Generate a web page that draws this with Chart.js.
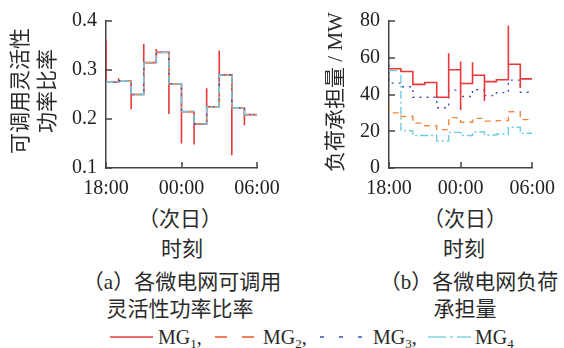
<!DOCTYPE html>
<html>
<head>
<meta charset="utf-8">
<script src="https://cdn.jsdelivr.net/npm/chart.js@4.4.1/dist/chart.umd.min.js"></script>
<style>
  body { margin: 0; background: #fff; }
  #wrap { position: relative; width: 564px; height: 348px; overflow: hidden;
          font-family: "Liberation Serif", "Times New Roman", "DejaVu Serif", "Noto Sans CJK SC", serif; color: #2a2a2a; }
  .abs { position: absolute; white-space: nowrap; }
  .ctr { transform: translate(-50%, -50%); text-align: center; }
  .rot { transform: translate(-50%, -50%) rotate(-90deg); text-align: center; }
  .t { font-size: 21px; }
  .leg { font-size: 20px; line-height: 20px; top: 327px; }
  .leg sub { font-size: 13px; vertical-align: -4px; line-height: 0; }
  svg.ls { position: absolute; top: 332px; }
</style>
</head>
<body>
<div id="wrap">
  <div class="abs" style="left:0;top:0;width:290px;height:200px"><canvas id="ratioChart" width="290" height="200"></canvas></div>
  <div class="abs" style="left:290px;top:0;width:274px;height:200px"><canvas id="loadChart" width="274" height="200"></canvas></div>

  <div class="abs rot t" style="left:34px;top:91px;line-height:27px">可调用灵活性<br>功率比率</div>
  <div class="abs rot t" style="left:333px;top:92px">负荷承担量 / MW</div>

  <div class="abs ctr t" style="left:180px;top:217px">（次日）</div>
  <div class="abs ctr t" style="left:182px;top:247px">时刻</div>
  <div class="abs ctr t" style="left:182px;top:280px">（a）各微电网可调用</div>
  <div class="abs ctr t" style="left:180px;top:307px">灵活性功率比率</div>

  <div class="abs ctr t" style="left:465px;top:217px">（次日）</div>
  <div class="abs ctr t" style="left:464px;top:247px">时刻</div>
  <div class="abs ctr t" style="left:469px;top:280px">（b）各微电网负荷</div>
  <div class="abs ctr t" style="left:465px;top:307px">承担量</div>

  <svg class="ls" style="left:110px" width="43" height="10"><line x1="0" y1="5" x2="43" y2="5" stroke="#e8383a" stroke-width="1.5"/></svg>
  <div class="abs leg" style="left:158px">MG<sub>1</sub>,</div>
  <svg class="ls" style="left:215px" width="40" height="10"><line x1="0" y1="5" x2="40" y2="5" stroke="#f0502a" stroke-width="1.5" stroke-dasharray="12 15"/></svg>
  <div class="abs leg" style="left:263px">MG<sub>2</sub>,</div>
  <svg class="ls" style="left:320px" width="44" height="10"><line x1="0" y1="5" x2="44" y2="5" stroke="#3a50b8" stroke-width="1.5" stroke-dasharray="4 15"/></svg>
  <div class="abs leg" style="left:373px">MG<sub>3</sub>,</div>
  <svg class="ls" style="left:428px" width="43" height="10"><line x1="0" y1="5" x2="43" y2="5" stroke="#80d4e4" stroke-width="1.5" stroke-dasharray="18 4 3 4"/></svg>
  <div class="abs leg" style="left:475px">MG<sub>4</sub></div>
</div>

<script>
// hourly slots from 18:00 to 06:00 (next day), x = hours after 18:00
const tickLabels = ['18:00', '00:00', '06:00'];

// (a) available flexible power ratio
const ratioBase = [0.275, 0.278, 0.250, 0.315, 0.336, 0.272, 0.215, 0.190, 0.225, 0.290, 0.223, 0.209];
const ratioMG1Hi = [0.36, 0.283, null, 0.353, 0.343, null, null, null, 0.263, 0.34, null, null];
const ratioMG1Lo = [null, null, 0.22, null, null, 0.21, 0.15, 0.148, null, null, 0.126, 0.187];

// (b) load undertaken, MW
const loadMG1 = [54, 52.5, 45.5, 46.5, 38.5, 53.5, 46, 50.5, 47, 48, 56.5, 48.5];
const loadMG1Hi = [null, null, null, null, null, 62.5, 58, 57.5, 51, null, 77.5, null];
const loadMG1Lo = [null, null, null, null, null, null, 31.5, null, 36.5, null, null, 43.5];
const loadMG2 = [30, 28, 24.4, 23, 20.9, 27.4, 24.9, 27, 25.5, 25.8, 30.6, 26.3];
const loadMG2Hi = [34, null, null, null, null, null, null, null, null, null, null, null];
const loadMG3 = [46.2, 44.2, 38.5, 38.5, 32.8, 42.4, 38.9, 42.6, 39.4, 41, 47.8, 41.2];
const loadMG3Hi = [60, null, null, null, null, null, null, null, null, null, null, null];
const loadMG4 = [53, 20.3, 17.7, 17.7, 14.7, 19.4, 17.7, 19.6, 18, 18.5, 22.2, 18.9];

const colors = ['#e8383a', '#f08a40', '#3a50b8', '#70cce2'];
const dashes = [[], [6, 5], [2, 5], [8, 3, 2, 3]];
const names = ['MG1', 'MG2', 'MG3', 'MG4'];

// step line with optional spikes at each hour boundary
function stepPoints(vals, hi, lo) {
    let pts = [];
    vals.forEach((v, i) => {
        if (i > 0) pts.push({x: i, y: vals[i - 1]});
        if (hi && hi[i] != null) pts.push({x: i, y: hi[i]});
        if (lo && lo[i] != null) pts.push({x: i, y: lo[i]});
        pts.push({x: i, y: v});
    });
    pts.push({x: vals.length, y: vals[vals.length - 1]});
    return pts;
}

function makeSet(k, pts, order) {
    return {
        label: names[k], data: pts, borderColor: colors[k], borderDash: dashes[k],
        borderWidth: k === 0 ? 1.6 : 1.4, pointRadius: 0, tension: 0, fill: false, order: order
    };
}

const innerTicks = {
    id: 'innerTicks',
    afterDraw(chart) {
        const {ctx, chartArea: a, scales: {x, y}} = chart;
        ctx.save();
        ctx.strokeStyle = '#444';
        ctx.lineWidth = 1.5;
        y.ticks.forEach(t => {
            let p = Math.round(y.getPixelForValue(t.value));
            ctx.beginPath(); ctx.moveTo(a.left, p); ctx.lineTo(a.left + 6, p); ctx.stroke();
        });
        x.ticks.forEach(t => {
            let p = Math.round(x.getPixelForValue(t.value));
            ctx.beginPath(); ctx.moveTo(p, a.bottom); ctx.lineTo(p, a.bottom - 6); ctx.stroke();
        });
        ctx.restore();
    }
};

const tickFont = {family: '"Liberation Serif", "Times New Roman", "DejaVu Serif", serif', size: 20};

function options(yMin, yMax, yStep, yFmt, padLeft, yWidth, padRight) {
    return {
        responsive: false,
        animation: false,
        layout: {padding: {left: padLeft, top: 17, right: padRight, bottom: 0}},
        plugins: {legend: {display: false}, tooltip: {enabled: false}},
        scales: {
            x: {
                type: 'linear', min: 0, max: 12,
                grid: {drawOnChartArea: false, drawTicks: false},
                border: {color: '#444', width: 1.5},
                ticks: {stepSize: 6, padding: 9, color: '#222', font: tickFont, maxRotation: 0,
                        callback: v => tickLabels[v / 6]},
                afterFit: s => { s.height = 32; }
            },
            y: {
                min: yMin, max: yMax,
                grid: {drawOnChartArea: false, drawTicks: false},
                border: {color: '#444', width: 1.5},
                ticks: {stepSize: yStep, padding: 9, color: '#222', font: tickFont, callback: yFmt},
                afterFit: s => { s.width = yWidth; }
            }
        }
    };
}

const ratioPts = stepPoints(ratioBase);
new Chart(document.getElementById('ratioChart'), {
    type: 'line',
    data: {
        datasets: [
            makeSet(0, stepPoints(ratioBase, ratioMG1Hi, ratioMG1Lo), 3),
            makeSet(1, ratioPts, 2),
            makeSet(2, ratioPts, 1),
            makeSet(3, ratioPts, 0)
        ]
    },
    options: options(0.1, 0.4, 0.1, v => v.toFixed(1), 56, 50, 33),
    plugins: [innerTicks]
});

new Chart(document.getElementById('loadChart'), {
    type: 'line',
    data: {
        datasets: [
            makeSet(0, stepPoints(loadMG1, loadMG1Hi, loadMG1Lo), 0),
            makeSet(1, stepPoints(loadMG2, loadMG2Hi), 1),
            makeSet(2, stepPoints(loadMG3, loadMG3Hi), 2),
            makeSet(3, stepPoints(loadMG4), 3)
        ]
    },
    options: options(0, 80, 20, v => v, 64, 35, 26),
    plugins: [innerTicks]
});
</script>
</body>
</html>
